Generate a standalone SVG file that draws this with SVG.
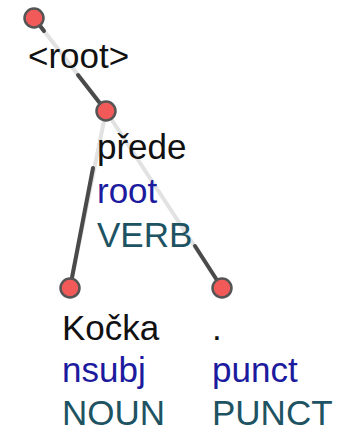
<svg xmlns="http://www.w3.org/2000/svg" width="360" height="433" viewBox="0 0 360 433">
  <style>
    .edge { stroke: #4a4a4a; stroke-width: 4; stroke-linecap: round; fill: none; }
    .edge-faint { stroke: #e2e2e2; stroke-width: 4; fill: none; }
    .node circle { fill: #f25a5a; stroke: #555555; stroke-width: 2.5; }
    text { font-family: "Liberation Sans", Arial, sans-serif; font-size: 35px; }
    .form { fill: #111111; }
    .deprel { fill: #1c1a9e; }
    .upos { fill: #1d5362; }
  </style>

  <rect width="360" height="433" fill="#ffffff"/>

  <!-- dependency edges: faint where they pass behind labels -->
  <g id="connectors">
    <line class="edge-faint" x1="34" y1="18" x2="106" y2="111"/>
    <line class="edge" x1="34" y1="18" x2="44" y2="31"/>
    <line class="edge" x1="78" y1="75" x2="106" y2="111"/>

    <line class="edge-faint" x1="106" y1="111" x2="70" y2="288"/>
    <line class="edge" x1="93" y1="168" x2="70" y2="288"/>

    <line class="edge-faint" x1="106" y1="111" x2="222" y2="288"/>
    <line class="edge" x1="195" y1="246" x2="222" y2="288"/>
  </g>

  <g id="node-root" class="node">
    <circle cx="34" cy="18" r="9.5"/>
    <text class="form" x="28" y="68">&lt;root&gt;</text>
  </g>

  <g id="node-prede" class="node">
    <circle cx="106" cy="111" r="9.5"/>
    <text class="form" x="97" y="159">přede</text>
    <text class="deprel" x="97" y="203">root</text>
    <text class="upos" x="97" y="247">VERB</text>
  </g>

  <g id="node-kocka" class="node">
    <circle cx="70" cy="288" r="9.5"/>
    <text class="form" x="62" y="340">Kočka</text>
    <text class="deprel" x="62" y="382">nsubj</text>
    <text class="upos" x="62" y="425">NOUN</text>
  </g>

  <g id="node-punct" class="node">
    <circle cx="222" cy="288" r="9.5"/>
    <text class="form" x="212" y="340">.</text>
    <text class="deprel" x="212" y="382">punct</text>
    <text class="upos" x="212" y="425">PUNCT</text>
  </g>
</svg>
